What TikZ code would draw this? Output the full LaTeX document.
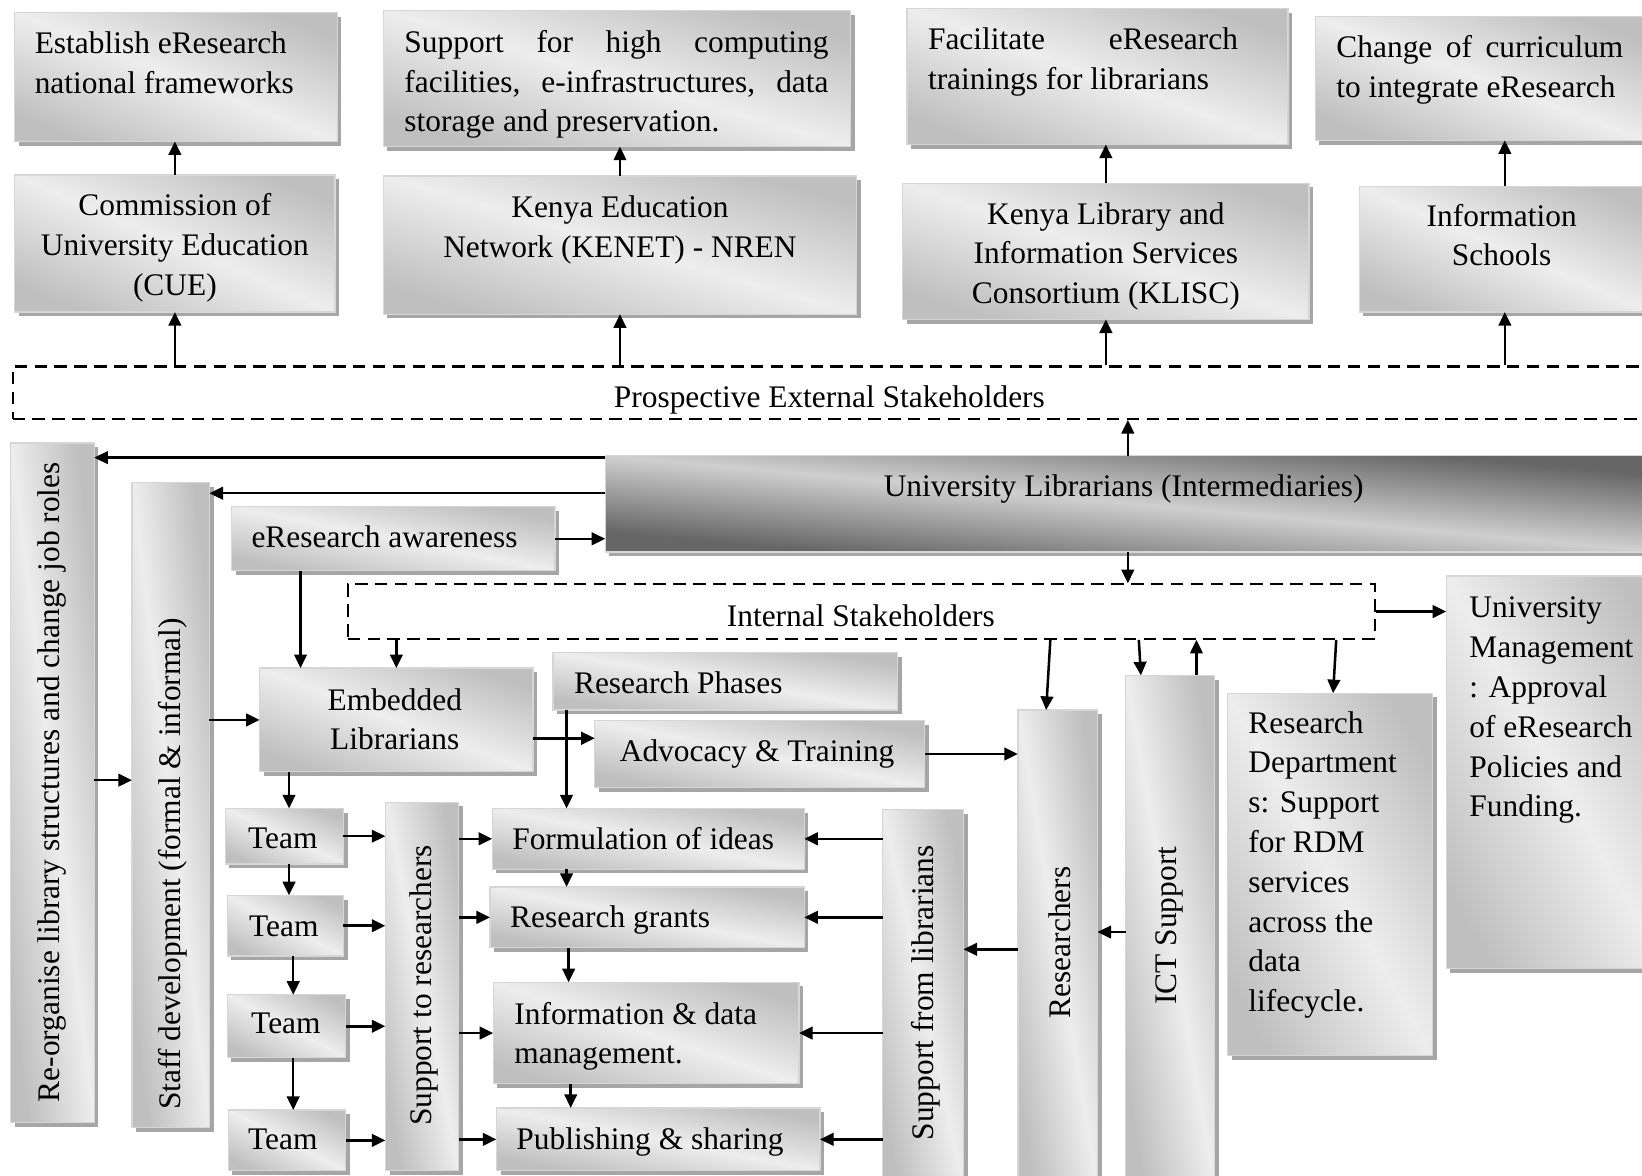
\documentclass[tikz,border=0pt]{standalone}
\usepackage{fontspec}
\setmainfont{Liberation Serif}
\usetikzlibrary{arrows.meta,fit}

\definecolor{bgdark}{HTML}{BFBFBF}
\definecolor{bglight}{HTML}{EDEDED}
\definecolor{uldark}{HTML}{666666}
\definecolor{ullight}{HTML}{CFCFCF}
\definecolor{boxedge}{HTML}{D6D6D6}
\definecolor{uledge}{HTML}{8A8A8A}
\definecolor{shadowgray}{HTML}{A6A6A6}

% light band along one diagonal, dark in the two other corners
\pgfdeclareverticalshading{boxgrad}{100bp}{color(0bp)=(bgdark); color(22bp)=(bgdark); color(50bp)=(bglight); color(78bp)=(bgdark); color(100bp)=(bgdark)}
\pgfdeclareverticalshading{ulgrad}{100bp}{color(0bp)=(uldark); color(22bp)=(uldark); color(50bp)=(ullight); color(78bp)=(uldark); color(100bp)=(uldark)}

\tikzset{
  boxnode/.style={inner sep=0pt, outer sep=0pt},
  dbox/.style={draw=black, line width=2pt, dash pattern=on 12pt off 7pt, inner sep=0pt},
  txt/.style={font=\fontsize{30}{38}\selectfont, inner sep=0pt, align=left},
  ctxt/.style={txt, align=center},
  rtxt/.style={txt, rotate=90, anchor=center},
  arr/.style={line width=2.4pt, -{Triangle[length=13pt,width=12pt]}},
}

% shaded box with drop shadow: [shading]{name}{x1}{y1}{x2}{y2}
\newcommand\boxat[6][boxgrad]{%
  \node[boxnode, fit={(#3,#4) (#5,#6)}] (#2) {};
  \fill[shadowgray] ([xshift=4pt,yshift=-4pt]#2.north west) rectangle ([xshift=4pt,yshift=-4pt]#2.south east);
  \pgfmathsetmacro\bcx{(#3+#5)/2}%
  \pgfmathsetmacro\bcy{(#4+#6)/2}%
  \pgfmathsetmacro\bsx{(#5-#3)/100}%
  \pgfmathsetmacro\bsy{(#6-#4)/100}%
  \begin{scope}[transform canvas={shift={(\bcx,\bcy)}, xscale=\bsx, yscale=\bsy}]
    \shade[shading=#1, shading angle=-45] (-50pt,-50pt) rectangle (50pt,50pt);
  \end{scope}
  \ifx#1ulgrad
    \draw[uledge, line width=1.2pt] (#2.north west) rectangle (#2.south east);
  \else
    \draw[boxedge, line width=1.2pt] (#2.north west) rectangle (#2.south east);
  \fi
}

\begin{document}
\begin{tikzpicture}[x=1pt,y=-1pt]
\useasboundingbox (0,0) rectangle (1568,1123);
\clip (0,0) rectangle (1568,1123);
\fill[white] (0,0) rectangle (1568,1123);

% ---- external bodies and their roles
\boxat{est}{14}{12}{322}{135}
\boxat{sup}{366}{10}{812}{140}
\boxat{fac}{866}{8}{1230}{138}
\boxat{chg}{1256}{16}{1572}{134}
\boxat{cue}{14}{167}{320}{298}
\boxat{kenet}{366}{168}{818}{300}
\boxat{klisc}{862}{175}{1250}{305}
\boxat{info}{1298}{178}{1576}{298}
\node[dbox, fit={(12,350) (1590,400)}] (ext) {};

% ---- library and internal bodies
\boxat[ulgrad]{ul}{578}{435}{1590}{527}
\boxat{reorg}{10}{423}{90}{1072}
\boxat{staff}{126}{461}{200}{1077}
\boxat{awr}{221}{484}{530}{545}
\node[dbox, fit={(332,558) (1313,610)}] (int) {};
\boxat{emb}{248}{638}{509}{737}
\boxat{rp}{528}{623}{857}{678}
\boxat{adv}{568}{688}{883}{752}
\boxat{t1}{215}{772}{328}{825}
\boxat{t2}{217}{855}{328}{913}
\boxat{t3}{217}{950}{330}{1010}
\boxat{t4}{218}{1060}{330}{1118}
\boxat{str}{368}{766}{438}{1118}
\boxat{form}{470}{772}{768}{830}
\boxat{grant}{468}{847}{768}{905}
\boxat{infod}{471}{938}{763}{1035}
\boxat{pub}{474}{1058}{783}{1118}
\boxat{sfl}{843}{773}{920}{1135}
\boxat{res}{972}{678}{1048}{1135}
\boxat{ict}{1075}{645}{1160}{1135}
\boxat{rd}{1172}{662}{1368}{1008}
\boxat{um}{1381}{550}{1590}{925}

% ---- texts (base anchor = baseline of the last line)
\node[txt, anchor=base west] (est-t) at (33,89) {Establish eResearch\\national frameworks};
\node[txt, anchor=base west] (sup-t) at (386,126) {\makebox[405pt][s]{Support for high computing}\\\makebox[405pt][s]{facilities, e-infrastructures, data}\\storage and preservation.};
\node[txt, anchor=base west] (fac-t) at (886,85) {\makebox[296pt][s]{Facilitate eResearch}\\trainings for librarians};
\node[txt, anchor=base west] (chg-t) at (1276,93) {\makebox[274pt][s]{Change of curriculum}\\to integrate eResearch};
\node[ctxt, anchor=base] (cue-t) at (167,282) {Commission of\\University Education\\(CUE)};
\node[ctxt, anchor=base] (kenet-t) at (592,246) {Kenya Education\\Network (KENET) - NREN};
\node[ctxt, anchor=base] (klisc-t) at (1056,290) {Kenya Library and\\Information Services\\Consortium (KLISC)};
\node[ctxt, anchor=base] (info-t) at (1434,254) {Information\\Schools};
\node[ctxt, anchor=base] (ext-t) at (792,389) {Prospective External Stakeholders};
\node[ctxt, anchor=base] (ul-t) at (1073,474) {University Librarians (Intermediaries)};
\node[txt, anchor=base west] (awr-t) at (240,523) {eResearch awareness};
\node[ctxt, anchor=base] (int-t) at (822,598) {Internal Stakeholders};
\node[ctxt, anchor=base] (emb-t) at (377,716) {Embedded\\Librarians};
\node[txt, anchor=base west] (rp-t) at (548,662) {Research Phases};
\node[ctxt, anchor=base] (adv-t) at (723,727) {Advocacy \& Training};
\node[ctxt, anchor=base] (t1-t) at (270,810) {Team};
\node[ctxt, anchor=base] (t2-t) at (271,894) {Team};
\node[ctxt, anchor=base] (t3-t) at (273,987) {Team};
\node[ctxt, anchor=base] (t4-t) at (270,1098) {Team};
\node[txt, anchor=base west] (form-t) at (489,811) {Formulation of ideas};
\node[txt, anchor=base west] (grant-t) at (487,886) {Research grants};
\node[txt, anchor=base west] (infod-t) at (491,1016) {Information \& data\\management.};
\node[txt, anchor=base west] (pub-t) at (493,1098) {Publishing \& sharing};
\node[txt, anchor=base west] (rd-t) at (1192,966) {Research\\Department\\s: Support\\for RDM\\services\\across the\\data\\lifecycle.};
\node[txt, anchor=base west] (um-t) at (1403,780) {University\\Management\\: Approval\\of eResearch\\Policies and\\Funding.};
\node[rtxt] (reorg-t) at (50,747) {Re-organise library structures and change job roles};
\node[rtxt] (staff-t) at (165,825) {Staff development (formal \& informal)};
\node[rtxt] (str-t) at (405,941) {Support to researchers};
\node[rtxt] (sfl-t) at (884,948) {Support from librarians};
\node[rtxt] (res-t) at (1012,900) {Researchers};
\node[rtxt] (ict-t) at (1117,884) {ICT Support};

% ---- helper positions for connectors
\coordinate (ulx) at (1077,0);
\coordinate (yA) at (0,437);
\coordinate (yB) at (0,471);
\coordinate (xAw) at (287,0);
\coordinate (yR) at (0,745);
\coordinate (yE) at (0,705);
\coordinate (xT) at (276,0);
\coordinate (xT2) at (280,0);
\coordinate (xP1) at (541,0);
\coordinate (xP2) at (543,0);
\coordinate (xP3) at (545,0);

% ---- connectors, upper part
\draw[arr] (cue.north) -- (cue.north |- est.south);
\draw[arr] (kenet.north) -- (kenet.north |- sup.south);
\draw[arr] (klisc.north) -- (klisc.north |- fac.south);
\draw[arr] (info.north) -- (info.north |- chg.south);
\draw[arr] (cue.south |- ext.north) -- (cue.south);
\draw[arr] (kenet.south |- ext.north) -- (kenet.south);
\draw[arr] (klisc.south |- ext.north) -- (klisc.south);
\draw[arr] (info.south |- ext.north) -- (info.south);
\draw[arr] (ulx |- ul.north) -- (ulx |- ext.south);
\draw[arr] (ulx |- ul.south) -- (ulx |- int.north);
\draw[arr] (ul.west |- yA) -- (reorg.east |- yA);
\draw[arr] (ul.west |- yB) -- (staff.east |- yB);
\draw[arr] (awr.east) -- (awr.east -| ul.west);

% ---- connectors, internal part
\draw[arr] (xAw |- awr.south) -- (xAw |- emb.north);
\draw[arr] (emb.north |- int.south) -- (emb.north);
\draw[arr] ([xshift=-7pt]res.north |- int.south) -- ([xshift=-11pt]res.north);
\draw[arr] ([xshift=-30pt]ict.north |- int.south) -- ([xshift=-28pt]ict.north);
\draw[arr] ([xshift=25pt]ict.north) -- ([xshift=25pt]ict.north |- int.south);
\draw[arr] ([xshift=6pt]rd.north |- int.south) -- ([xshift=3pt]rd.north);
\draw[arr] (int.east) -- (int.east -| um.west);
\draw[arr] (reorg.east |- yR) -- (staff.west |- yR);
\draw[arr] (emb.west -| staff.east) -- (emb.west);
\draw[arr] (emb.east |- yE) -- (adv.west |- yE);
\draw[arr] (xP1 |- rp.south) -- (xP1 |- form.north);
\draw[arr] (adv.east) -- (adv.east -| res.west);
\draw[arr] (xT |- emb.south) -- (xT |- t1.north);
\draw[arr] (xT |- t1.south) -- (xT |- t2.north);
\draw[arr] (xT2 |- t2.south) -- (xT2 |- t3.north);
\draw[arr] (xT2 |- t3.south) -- (xT2 |- t4.north);
\foreach \t in {t1,t2,t3,t4}
  \draw[arr] (\t.east) -- (\t.east -| str.west);
\foreach \p in {form,grant,infod,pub}
  \draw[arr] (str.east |- \p.west) -- (\p.west);
\draw[arr] (xP1 |- form.south) -- (xP1 |- grant.north);
\draw[arr] (xP2 |- grant.south) -- (xP2 |- infod.north);
\draw[arr] (xP3 |- infod.south) -- (xP3 |- pub.north);
\foreach \p in {form,grant,infod,pub}
  \draw[arr] (sfl.west |- \p.east) -- (\p.east);
\draw[arr] (res.west) -- (res.west -| sfl.east);
\draw[arr] (ict.west) -- (ict.west -| res.east);
\end{tikzpicture}
\end{document}
